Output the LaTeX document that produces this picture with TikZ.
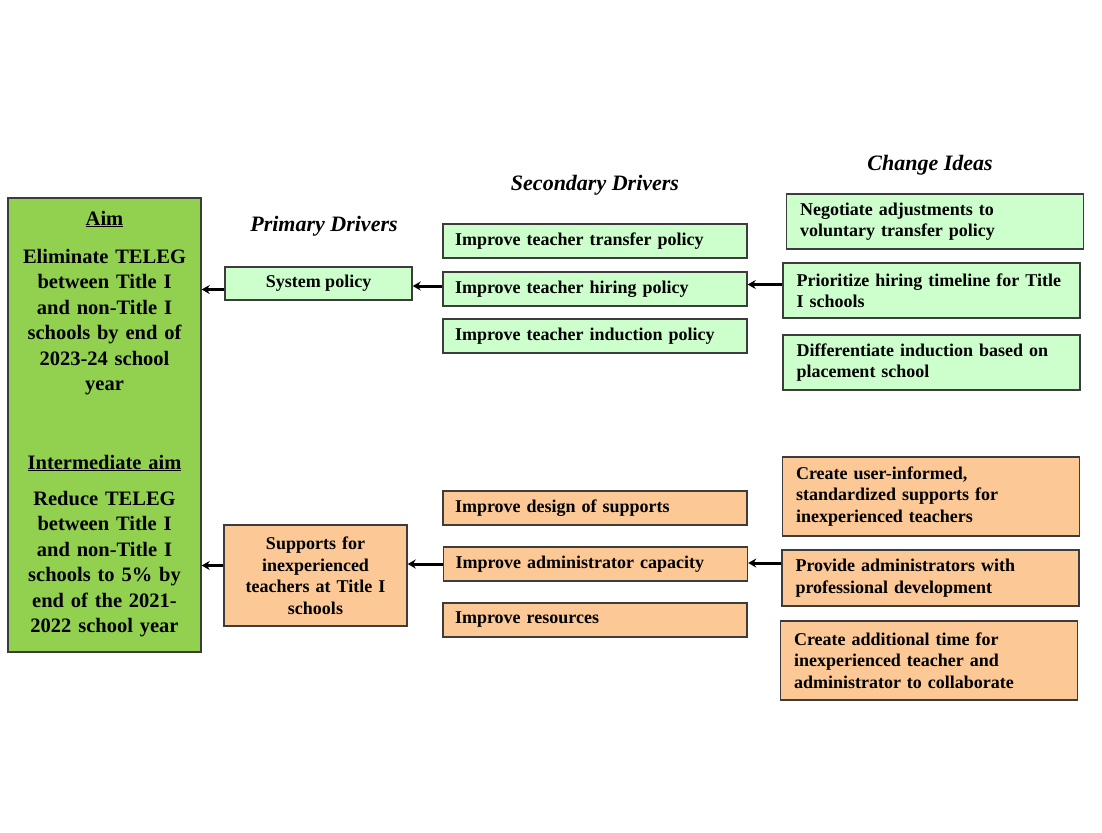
\documentclass[tikz,border=0pt]{standalone}
\usepackage{fontspec}
\setmainfont{Liberation Serif}
\usetikzlibrary{arrows.meta}
\definecolor{aimgreen}{HTML}{92D050}
\definecolor{palegreen}{HTML}{CCFFCC}
\definecolor{peach}{HTML}{FBC896}
\definecolor{edgegray}{HTML}{3C3C3C}
\tikzset{
  box/.style={draw=edgegray, line width=1.4pt, inner sep=0pt, font=\bfseries\fontsize{18}{21.5}\selectfont},
  gbox/.style={box, fill=palegreen},
  obox/.style={box, fill=peach},
  lbox/.style={align=left},
  heading/.style={font=\bfseries\itshape\fontsize{22}{26}\selectfont},
  aimtext/.style={font=\bfseries\fontsize{20.5}{25.5}\selectfont, align=center, text width=190},
  link/.style={line width=3pt, -{Stealth[length=8pt,width=9pt]}},
}
\begin{document}
\begin{tikzpicture}[x=1pt,y=-1pt]
\useasboundingbox (0,0) rectangle (1102,832);

% headings
\node[heading] (hp) at (324,226) {Primary Drivers};
\node[heading] (hs) at (595,185) {Secondary Drivers};
\node[heading] (hc) at (930,165) {Change Ideas};

% aim column
\node[box, fill=aimgreen, minimum width=193, minimum height=454] (aim) at (104.5,425) {};
\node[aimtext] (aimhd) at (104.5,219) {\underline{Aim}};
\node[aimtext] (aimtxt) at (104.5,322)
  {Eliminate TELEG\\between Title I\\and non-Title I\\schools by end of\\2023-24 school\\year};
\node[aimtext] (imhd) at (104.5,463) {\underline{Intermediate aim}};
\node[aimtext] (imtxt) at (104.5,564)
  {Reduce TELEG\\between Title I\\and non-Title I\\schools to 5\% by\\end of the 2021-\\2022 school year};

% primary drivers
\node[gbox, minimum width=187, minimum height=33] (sys) at (318.5,283.5) {System policy};
\node[obox, minimum width=183, minimum height=101, align=center, text width=180] (sup) at (315.5,575.5)
  {Supports for\\inexperienced\\teachers at Title I\\schools};

% secondary drivers
\tikzset{sec/.style={minimum width=304, minimum height=34, text width=280, lbox}}
\node[gbox, sec] (s1) at (595,241) {Improve teacher transfer policy};
\node[gbox, sec] (s2) at (595,289) {Improve teacher hiring policy};
\node[gbox, sec] (s3) at (595,336) {Improve teacher induction policy};
\node[obox, sec] (s4) at (595,508) {Improve design of supports};
\node[obox, sec] (s5) at (595.5,564) {Improve administrator capacity};
\node[obox, sec] (s6) at (595,620) {Improve resources};

% change ideas
\tikzset{chg/.style={minimum width=297, text width=270, lbox}}
\node[gbox, chg, minimum height=55] (c1) at (935,221.5) {Negotiate adjustments to\\voluntary transfer policy};
\node[gbox, chg, minimum height=55] (c2) at (931.5,290.5) {Prioritize hiring timeline for Title\\I schools};
\node[gbox, chg, minimum height=55] (c3) at (931.5,362.5) {Differentiate induction based on\\placement school};
\node[obox, chg, minimum height=79] (c4) at (931,496.5) {Create user-informed,\\standardized supports for\\inexperienced teachers};
\node[obox, chg, minimum height=56] (c5) at (930.5,578) {Provide administrators with\\professional development};
\node[obox, chg, minimum height=79] (c6) at (929,660.5) {Create additional time for\\inexperienced teacher and\\administrator to collaborate};

% connectors
\draw[link] ([yshift=-6pt]sys.west) -- ([yshift=-6pt]sys.west -| aim.east);
\draw[link] ([yshift=3pt]s2.west) -- ([yshift=3pt]s2.west -| sys.east);
\draw[link] ([yshift=6pt]c2.west) -- ([yshift=6pt]c2.west -| s2.east);
\draw[link] ([yshift=10pt]sup.west) -- ([yshift=10pt]sup.west -| aim.east);
\draw[link] (s5.west) -- (s5.west -| sup.east);
\draw[link] ([yshift=15pt]c5.west) -- ([yshift=15pt]c5.west -| s5.east);
\end{tikzpicture}
\end{document}
